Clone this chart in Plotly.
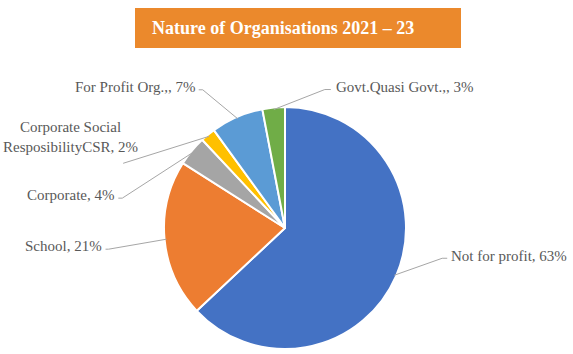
import math
import plotly.graph_objects as go

categories = ["Not for profit", "School", "Corporate", "Corporate Social<br>ResposibilityCSR",
              "For Profit Org.,", "Govt.Quasi Govt.,"]
values = [63, 21, 4, 2, 7, 3]
colors = ["#4472C4", "#ED7D31", "#A5A5A5", "#FFC000", "#5B9BD5", "#70AD47"]
title_text = "Nature of Organisations 2021 – 23"

W, H = 573, 354
CX, CY, R = 285, 228, 121

# leader-line styling per label: elbow offset (dx, dy) from slice edge, horizontal tail length,
# label offset (lx, ly) from tail end
leader = [
    (48, -17, 5, 2, -2),
    (-58, 10, -3, -2, -3),
    (-71, 46, -4, -2, -3),
    (-86, 27, 0, 17, -26),
    (-35, -29, -4, -1, -3),
    (51, -20, 6, 3, -3),
]

def px(x):
    return x / W

def py(y):
    return 1 - y / H

fig = go.Figure()
fig.add_trace(go.Pie(
    labels=categories, values=values, sort=False, direction="clockwise", rotation=0,
    marker=dict(colors=colors, line=dict(color="white", width=2)),
    textinfo="none", hoverinfo="label+percent", showlegend=False,
    domain=dict(x=[px(CX - R), px(CX + R)], y=[py(CY + R), py(CY - R)]),
))

total = sum(values)
cum = 0
shapes = []
annotations = []
for cat, v, (dx, dy, tail, lx, ly) in zip(categories, values, leader):
    mid = (cum + v / 2) / total
    cum += v
    th = 2 * math.pi * mid
    x0 = CX + (R - 2) * math.sin(th)
    y0 = CY - (R - 2) * math.cos(th)
    x1, y1 = x0 + dx, y0 + dy
    x2 = x1 + tail
    path = f"M {px(x0)},{py(y0)} L {px(x1)},{py(y1)}"
    if tail:
        path += f" L {px(x2)},{py(y1)}"
    shapes.append(dict(type="path", xref="paper", yref="paper", path=path,
                       line=dict(color="#A6A6A6", width=1)))
    pct = round(100 * v / total)
    right = dx > 0
    annotations.append(dict(
        x=px(x2 + lx), y=py(y1 + ly), xref="paper", yref="paper",
        text=f"{cat}, {pct}%", showarrow=False,
        xanchor="left" if right else "right", yanchor="middle", align="center",
        font=dict(family="Liberation Serif", size=15, color="#595959"),
    ))

shapes.append(dict(type="rect", xref="paper", yref="paper",
                   x0=px(135), x1=px(461), y0=py(48), y1=py(8),
                   fillcolor="#EB892C", line=dict(width=0), layer="below"))
annotations.append(dict(x=px(283), y=py(28), xref="paper", yref="paper", text=f"<b>{title_text}</b>",
                        showarrow=False, xanchor="center", yanchor="middle",
                        font=dict(family="Liberation Serif", size=18, color="white")))

fig.update_layout(width=W, height=H, margin=dict(l=0, r=0, t=0, b=0),
                  paper_bgcolor="white", plot_bgcolor="white",
                  shapes=shapes, annotations=annotations)
fig.write_html("out.html")
